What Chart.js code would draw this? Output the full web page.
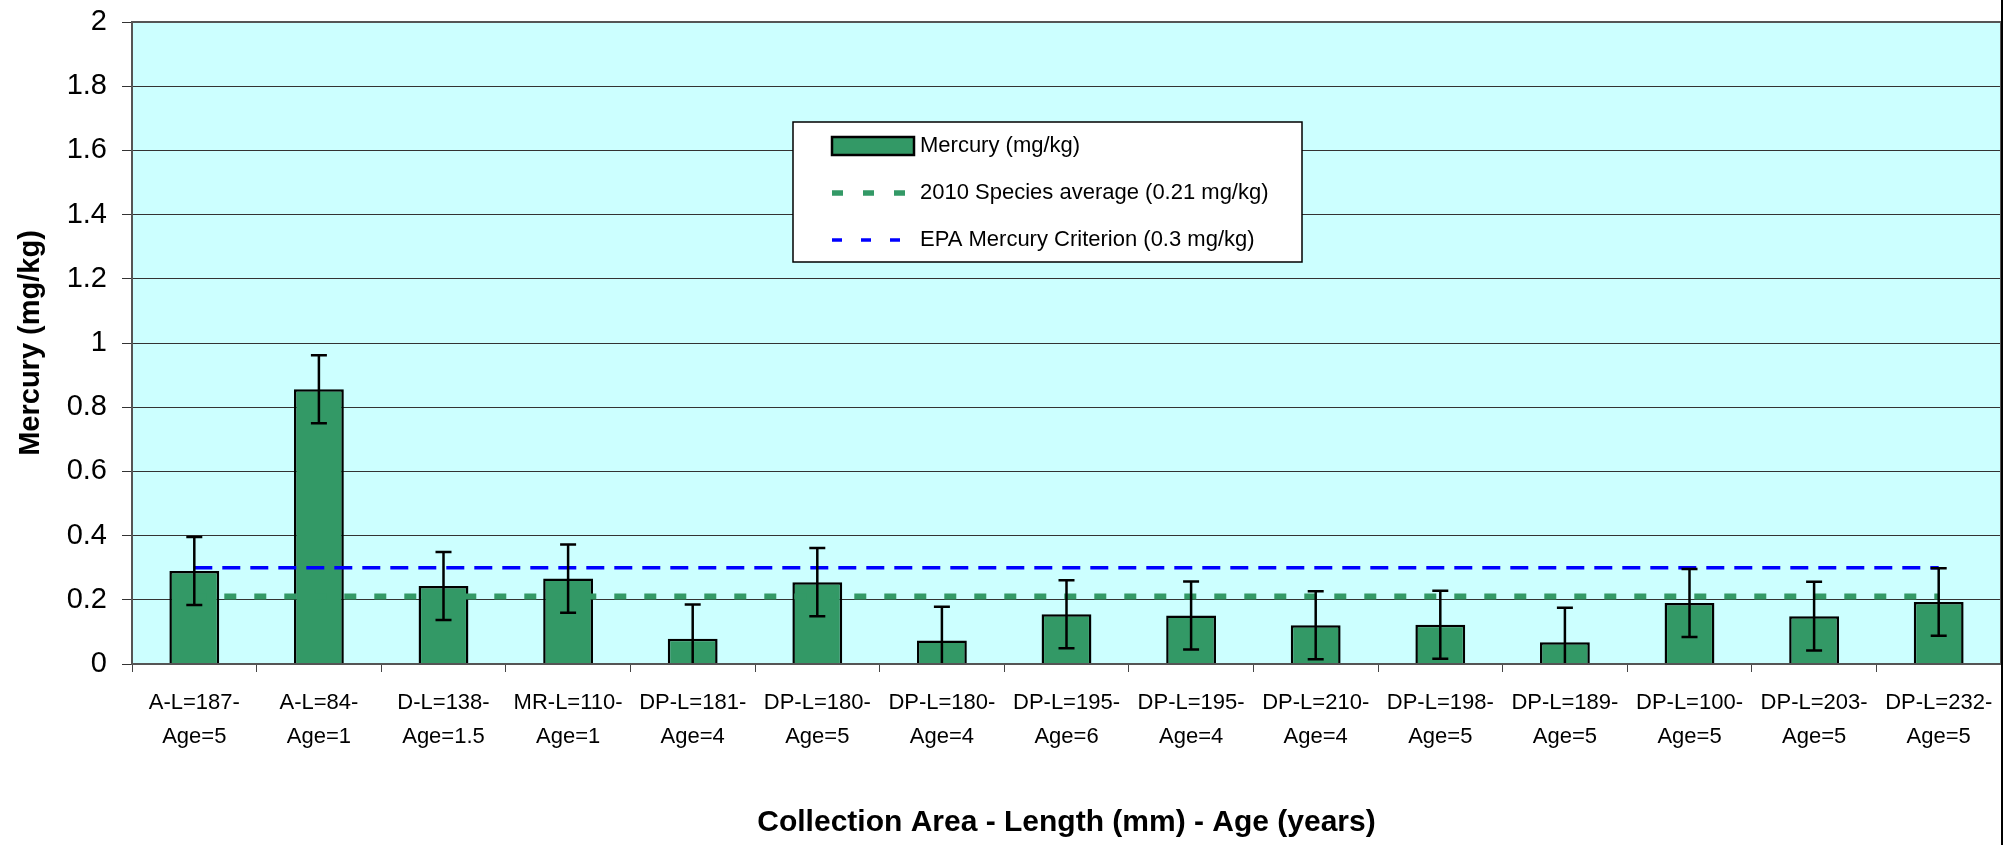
<!DOCTYPE html>
<html>
<head>
<meta charset="utf-8">
<script src="https://cdn.jsdelivr.net/npm/chart.js@4.4.0/dist/chart.umd.min.js"></script>
<style>
  body { margin: 0; background: #ffffff; }
  #wrap { width: 2011px; height: 845px; }
</style>
</head>
<body>
<div id="wrap"><canvas id="myChart" width="2011" height="845"></canvas></div>
<script>
// categories: collection area - length - age
var categories = [
    ['A-L=187-', 'Age=5'], ['A-L=84-', 'Age=1'], ['D-L=138-', 'Age=1.5'],
    ['MR-L=110-', 'Age=1'], ['DP-L=181-', 'Age=4'], ['DP-L=180-', 'Age=5'],
    ['DP-L=180-', 'Age=4'], ['DP-L=195-', 'Age=6'], ['DP-L=195-', 'Age=4'],
    ['DP-L=210-', 'Age=4'], ['DP-L=198-', 'Age=5'], ['DP-L=189-', 'Age=5'],
    ['DP-L=100-', 'Age=5'], ['DP-L=203-', 'Age=5'], ['DP-L=232-', 'Age=5']
];
var mercury = [0.29, 0.856, 0.243, 0.266, 0.079, 0.255, 0.073, 0.155, 0.151, 0.121, 0.122, 0.068, 0.19, 0.149, 0.193];
var mercuryErr = [0.106, 0.106, 0.106, 0.106, 0.106, 0.106, 0.105, 0.106, 0.106, 0.106, 0.106, 0.107, 0.106, 0.107, 0.105];
var speciesAvg = [0.21, 0.21, 0.21, 0.21, 0.21, 0.21, 0.21, 0.21, 0.21, 0.21, 0.21, 0.21, 0.21, 0.21, 0.21];
var epaCriterion = [0.3, 0.3, 0.3, 0.3, 0.3, 0.3, 0.3, 0.3, 0.3, 0.3, 0.3, 0.3, 0.3, 0.3, 0.3];
var yTicks = [0, 0.2, 0.4, 0.6, 0.8, 1, 1.2, 1.4, 1.6, 1.8, 2];

var GREEN = '#339966';
var BLUE = '#0000ff';
var ARIAL = "'Liberation Sans', Arial, sans-serif";

// light cyan plot area, frame and outer right edge
var plotBg = {
    id: 'plotBg',
    beforeDraw: function (chart) {
        var a = chart.chartArea, ctx = chart.ctx;
        ctx.save();
        ctx.fillStyle = '#ccffff';
        ctx.fillRect(a.left, a.top, a.right - a.left, a.bottom - a.top);
        ctx.restore();
    },
    afterDraw: function (chart) {
        var a = chart.chartArea, ctx = chart.ctx;
        ctx.save();
        ctx.strokeStyle = '#555555';
        ctx.lineWidth = 2;
        ctx.strokeRect(a.left, a.top, a.right - a.left, a.bottom - a.top);
        ctx.strokeStyle = '#000000';
        ctx.beginPath();
        ctx.moveTo(a.right + 1, 0);
        ctx.lineTo(a.right + 1, chart.height);
        ctx.stroke();
        ctx.restore();
    }
};

// error bars on the mercury bars
var errorBars = {
    id: 'errorBars',
    afterDatasetsDraw: function (chart) {
        var ctx = chart.ctx, a = chart.chartArea;
        var meta = chart.getDatasetMeta(0);
        var y = chart.scales.y;
        ctx.save();
        ctx.beginPath();
        ctx.rect(a.left, a.top, a.right - a.left, a.bottom - a.top);
        ctx.clip();
        ctx.strokeStyle = '#000000';
        ctx.lineWidth = 2.5;
        meta.data.forEach(function (bar, i) {
            var hi = y.getPixelForValue(mercury[i] + mercuryErr[i]);
            var lo = y.getPixelForValue(mercury[i] - mercuryErr[i]);
            ctx.beginPath();
            ctx.moveTo(bar.x, hi); ctx.lineTo(bar.x, lo);
            ctx.moveTo(bar.x - 8, hi); ctx.lineTo(bar.x + 8, hi);
            ctx.moveTo(bar.x - 8, lo); ctx.lineTo(bar.x + 8, lo);
            ctx.stroke();
        });
        ctx.restore();
    }
};

// boxed legend floating inside the plot
var boxLegend = {
    id: 'boxLegend',
    afterDraw: function (chart) {
        var ctx = chart.ctx;
        var bx = 793, by = 122, bw = 509, bh = 140;
        ctx.save();
        ctx.fillStyle = '#ffffff';
        ctx.fillRect(bx, by, bw, bh);
        ctx.strokeStyle = '#000000';
        ctx.lineWidth = 1.5;
        ctx.strokeRect(bx, by, bw, bh);

        var sx = 832, sw = 82, tx = 920;
        var rows = [146, 193, 240];
        var ds = chart.data.datasets;

        ctx.fillStyle = GREEN;
        ctx.fillRect(sx, rows[0] - 9, sw, 18);
        ctx.lineWidth = 2.5;
        ctx.strokeStyle = '#000000';
        ctx.strokeRect(sx, rows[0] - 9, sw, 18);

        ctx.lineWidth = 5.5;
        ctx.strokeStyle = GREEN;
        ctx.setLineDash([11, 20]);
        ctx.beginPath(); ctx.moveTo(sx, rows[1]); ctx.lineTo(sx + sw, rows[1]); ctx.stroke();

        ctx.lineWidth = 3.5;
        ctx.strokeStyle = BLUE;
        ctx.setLineDash([10, 19]);
        ctx.beginPath(); ctx.moveTo(sx, rows[2]); ctx.lineTo(sx + sw, rows[2]); ctx.stroke();
        ctx.setLineDash([]);

        ctx.fillStyle = '#000000';
        ctx.font = '22px ' + ARIAL;
        ctx.textBaseline = 'middle';
        ctx.textAlign = 'left';
        for (var i = 0; i < 3; i++) {
            ctx.fillText(ds[i].label, tx, rows[i]);
        }
        ctx.restore();
    }
};

var ctx1 = document.getElementById('myChart').getContext('2d');
var myChart = new Chart(ctx1, {
    type: 'bar',
    data: {
        labels: categories,
        datasets: [{
            type: 'bar',
            label: 'Mercury (mg/kg)',
            data: mercury,
            backgroundColor: GREEN,
            borderColor: '#000000',
            borderWidth: 2.5,
            barPercentage: 0.4,
            categoryPercentage: 1.0,
            order: 3
        }, {
            type: 'line',
            label: '2010 Species average (0.21 mg/kg)',
            data: speciesAvg,
            borderColor: GREEN,
            borderWidth: 6,
            borderDash: [12, 18],
            pointRadius: 0,
            fill: false,
            order: 2
        }, {
            type: 'line',
            label: 'EPA Mercury Criterion (0.3 mg/kg)',
            data: epaCriterion,
            borderColor: BLUE,
            borderWidth: 3.5,
            borderDash: [18, 10],
            pointRadius: 0,
            fill: false,
            order: 1
        }]
    },
    options: {
        responsive: false,
        animation: false,
        layout: { padding: { left: 0, right: 10, top: 22, bottom: 0 } },
        plugins: {
            legend: { display: false },
            tooltip: { enabled: false }
        },
        scales: {
            x: {
                offset: true,
                grid: {
                    offset: true,
                    drawOnChartArea: false,
                    drawTicks: true,
                    tickLength: 8,
                    color: '#444444'
                },
                border: { display: true, color: '#555555', width: 2 },
                ticks: {
                    color: '#000000',
                    padding: 14,
                    maxRotation: 0,
                    autoSkip: false,
                    font: { family: ARIAL, size: 22, lineHeight: 1.55 }
                },
                title: {
                    display: true,
                    text: 'Collection Area - Length (mm) - Age (years)',
                    color: '#000000',
                    font: { family: ARIAL, size: 30, weight: 'bold', lineHeight: 1.2 },
                    padding: { top: 4, bottom: 4 }
                },
                afterFit: function (scale) { scale.height = 181; }
            },
            y: {
                min: 0,
                max: 2,
                afterBuildTicks: function (scale) {
                    scale.ticks = yTicks.map(function (v) { return { value: v }; });
                },
                grid: {
                    color: '#333333',
                    lineWidth: 1,
                    drawTicks: true,
                    tickLength: 10
                },
                border: { display: true, color: '#555555', width: 2 },
                ticks: {
                    color: '#000000',
                    padding: 15,
                    font: { family: ARIAL, size: 29 },
                    callback: function (value) { return String(value); }
                },
                title: {
                    display: true,
                    text: 'Mercury (mg/kg)',
                    color: '#000000',
                    font: { family: ARIAL, size: 29, weight: 'bold', lineHeight: 1.2 },
                    padding: { top: 14, bottom: 14 }
                },
                afterFit: function (scale) {
                    scale.width = 132;
                    scale.paddingTop = 0;
                    scale.paddingBottom = 0;
                }
            }
        }
    },
    plugins: [plotBg, errorBars, boxLegend]
});
</script>
</body>
</html>
